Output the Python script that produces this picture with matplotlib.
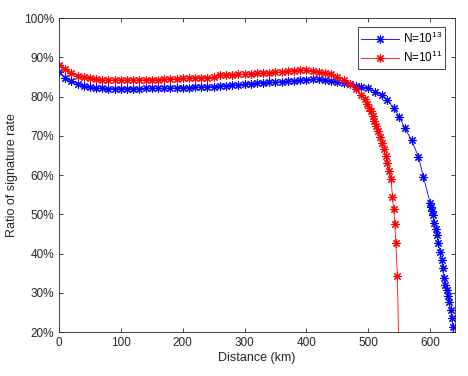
import numpy as np
import matplotlib
matplotlib.use('Agg')
from matplotlib import pyplot as plt
from matplotlib.ticker import FuncFormatter

plt.rcParams['font.family'] = ['Liberation Sans', 'DejaVu Sans']
plt.rcParams['mathtext.fontset'] = 'custom'
plt.rcParams['mathtext.rm'] = 'Liberation Sans'

# N = 10^13 (blue)
dist_13 = [0, 10, 20, 30, 40, 50, 60, 70, 80, 90, 100, 110, 120, 130, 140, 150,
           160, 170, 180, 190, 200, 210, 220, 230, 240, 250, 260, 270, 280, 290,
           300, 310, 320, 330, 340, 350, 360, 370, 380, 390, 400, 410, 420, 430,
           440, 450, 460, 470, 480, 489, 500, 511, 522, 531, 541, 550, 559, 570,
           581, 589, 600, 601.5, 603, 605, 606, 609, 611, 613, 616, 619, 620,
           622.5, 624.5, 627, 629, 631, 633, 635, 636.5, 639]
rate_13 = [86.3, 84.8, 83.9, 83.2, 82.7, 82.4, 82.2, 82.1, 82.0, 82.0, 82.0, 82.0,
           82.0, 82.0, 82.1, 82.1, 82.1, 82.1, 82.2, 82.2, 82.3, 82.3, 82.4, 82.4,
           82.5, 82.5, 82.7, 82.8, 82.9, 83.0, 83.2, 83.3, 83.4, 83.5, 83.6, 83.7,
           83.8, 83.9, 84.0, 84.2, 84.3, 84.4, 84.4, 84.2, 84.0, 83.8, 83.4, 83.1,
           82.8, 82.5, 82.1, 81.2, 80.4, 79.1, 77.0, 74.9, 71.9, 68.9, 64.7, 59.6,
           52.9, 51.9, 50.9, 49.8, 47.7, 46.2, 44.7, 42.6, 40.5, 38.3, 36.2, 33.7,
           32.1, 30.7, 29.2, 27.7, 25.6, 23.5, 21.4, 17.0]

# N = 10^11 (red)
dist_11 = [0, 10, 20, 30, 40, 50, 60, 70, 80, 90, 100, 110, 120, 130, 140, 150,
           160, 170, 180, 190, 200, 210, 220, 230, 240, 250, 260, 270, 280, 290,
           300, 310, 320, 330, 340, 350, 360, 370, 380, 390, 400, 410, 420, 430,
           440, 450, 460, 470, 480, 489, 494, 498, 501, 504, 507, 510, 513, 516,
           519, 522, 525, 528, 531, 534, 537, 539, 541, 543, 544.5, 547, 550]
rate_11 = [88.0, 87.0, 85.9, 85.3, 84.9, 84.6, 84.4, 84.3, 84.2, 84.2, 84.2, 84.2,
           84.2, 84.2, 84.3, 84.3, 84.3, 84.4, 84.5, 84.5, 84.6, 84.7, 84.7, 84.8,
           84.8, 84.9, 85.5, 85.5, 85.6, 85.7, 85.7, 85.8, 85.9, 86.0, 86.1, 86.2,
           86.3, 86.4, 86.6, 86.7, 86.7, 86.6, 86.3, 86.0, 85.7, 85.1, 84.3, 83.2,
           81.8, 80.4, 79.3, 78.2, 77.2, 76.2, 75.0, 73.8, 72.6, 71.2, 69.7, 68.1,
           66.6, 64.9, 63.0, 61.0, 58.9, 54.5, 51.3, 47.5, 42.7, 34.3, 10.0]

asterisk = (8, 2, 0)

fig = plt.figure(figsize=(4.68, 3.76), dpi=100)
ax = fig.add_axes([0.126, 0.117, 0.846, 0.835])

ax.plot(dist_13, rate_13, color='b', lw=0.6, marker=asterisk, ms=6, mew=0.8,
        label='N=10$^{13}$')
ax.plot(dist_11, rate_11, color='r', lw=0.6, marker=asterisk, ms=6, mew=0.8,
        label='N=10$^{11}$')

ax.set_xlim(0, 640)
ax.set_ylim(20, 100)
ax.set_xticks(np.arange(0, 601, 100))
ax.set_yticks(np.arange(20, 101, 10))
ax.yaxis.set_major_formatter(FuncFormatter(lambda v, p: f'{v:.0f}%'))
ax.tick_params(direction='in', length=3, width=0.6, labelsize=8.5,
               colors='0.15', top=True, right=True)
for s in ax.spines.values():
    s.set_color('0.15')
    s.set_linewidth(0.6)

ax.set_xlabel('Distance (km)', fontsize=9, color='0.15', labelpad=2)
ax.set_ylabel('Ratio of signature rate', fontsize=9, color='0.15', labelpad=4)

leg = ax.legend(loc='upper right', fontsize=8.5, fancybox=False,
                edgecolor='0.15', framealpha=1, handlelength=3.2,
                borderaxespad=0.8, labelspacing=0.3, borderpad=0.3,
                handletextpad=0.3)
leg.get_frame().set_linewidth(0.6)

fig.savefig('out.png', dpi=100)
